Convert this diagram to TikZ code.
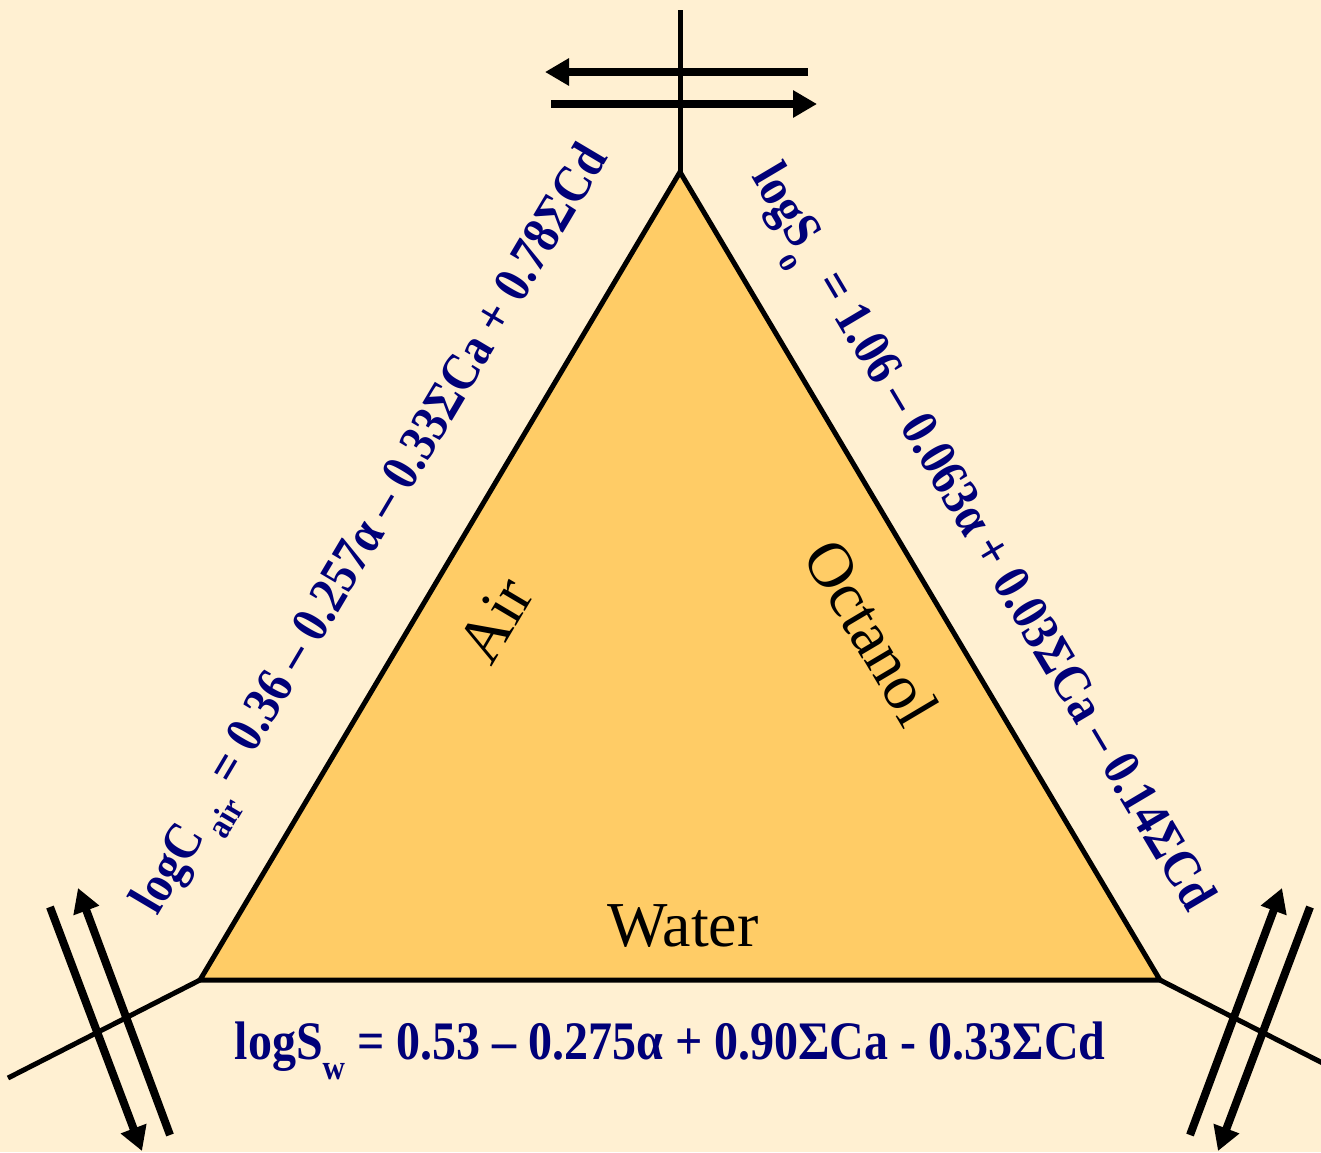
\documentclass[tikz,border=0pt]{standalone}
\usepackage{fontspec}
\setmainfont{Liberation Serif}
\usetikzlibrary{arrows.meta}
\definecolor{bgc}{RGB}{255,240,210}
\definecolor{trifill}{RGB}{255,204,102}
\definecolor{eqnavy}{RGB}{0,0,120}
\newcommand\mysub[1]{\raisebox{-0.37em}{\fontsize{31}{31}\selectfont #1}}
\newcommand\tallify[1]{\scalebox{1}[1.13]{#1}}
\begin{document}
\begin{tikzpicture}[x=1pt,y=-1pt,
  eqtext/.style={text=eqnavy, font=\fontsize{48}{50}\selectfont\bfseries, inner sep=0pt},
  eqslant/.style={text=eqnavy, font=\fontsize{46.5}{50}\selectfont\bfseries, inner sep=0pt},
  phase/.style={text=black, font=\fontsize{64}{66}\selectfont, inner sep=0pt},
  tri/.style={draw=black, line width=5pt, fill=trifill, line join=miter},
  spoke/.style={draw=black, line width=5pt},
  flux/.style={draw=black, line width=8pt},
  fluxhead/.style={flux, -{Triangle[length=24pt,width=26pt]}}]
\useasboundingbox (0,0) rectangle (1321,1152);
\fill[bgc] (0,0) rectangle (1321,1152);
\clip (0,0) rectangle (1321,1152);
% corners
\coordinate (apex) at (680,172);
\coordinate (bl) at (200,980);
\coordinate (br) at (1160,980);
% spoke ends
\coordinate (topend) at (680,10);
\coordinate (blend) at (8,1078);
\coordinate (brend) at (1352,1078);
% spokes
\draw[spoke] (apex) -- (topend);
\draw[spoke] (bl) -- (blend);
\draw[spoke] (br) -- (brend);
% triangle
\draw[tri] (apex) -- (bl) -- (br) -- cycle;
% top arrows
\coordinate (tla) at (808,72);  \coordinate (tlb) at (545,72);
\coordinate (tra) at (551,104); \coordinate (trb) at (817,104);
\draw[fluxhead] (tla) -- (tlb);
\draw[fluxhead] (tra) -- (trb);
% bottom-left arrows
\coordinate (bla1) at (50,907);  \coordinate (bla2) at (142,1151);
\coordinate (blb1) at (170,1135); \coordinate (blb2) at (78,888);
\draw[fluxhead] (bla1) -- (bla2);
\draw[fluxhead] (blb1) -- (blb2);
% bottom-right arrows
\coordinate (bra1) at (1310,907);  \coordinate (bra2) at (1218,1151);
\coordinate (brb1) at (1190,1135); \coordinate (brb2) at (1282,888);
\draw[fluxhead] (bra1) -- (bra2);
\draw[fluxhead] (brb1) -- (brb2);
% phase labels
\node[phase, rotate=59.3] (air) at (495,620) {Air};
\node[phase, rotate=-59.3] (oct) at (872,632) {Octanol};
\node[phase, anchor=base] (wat) at (683,946) {Water};
% equations
\node[eqtext, anchor=base] (eqw) at (670,1059) {\tallify{logS\mysub{w} = 0.53 – 0.275α + 0.90ΣCa - 0.33ΣCd}};
\node[eqslant, rotate=59.3] (eqa) at (376,533) {\tallify{logC\,\mysub{air} = 0.36 – 0.257α – 0.33ΣCa + 0.78ΣCd}};
\node[eqslant, rotate=-59.3] (eqo) at (977,541) {\tallify{logS\mysub{o}\ \ = 1.06 – 0.063α + 0.03ΣCa – 0.14ΣCd}};
\end{tikzpicture}
\end{document}
